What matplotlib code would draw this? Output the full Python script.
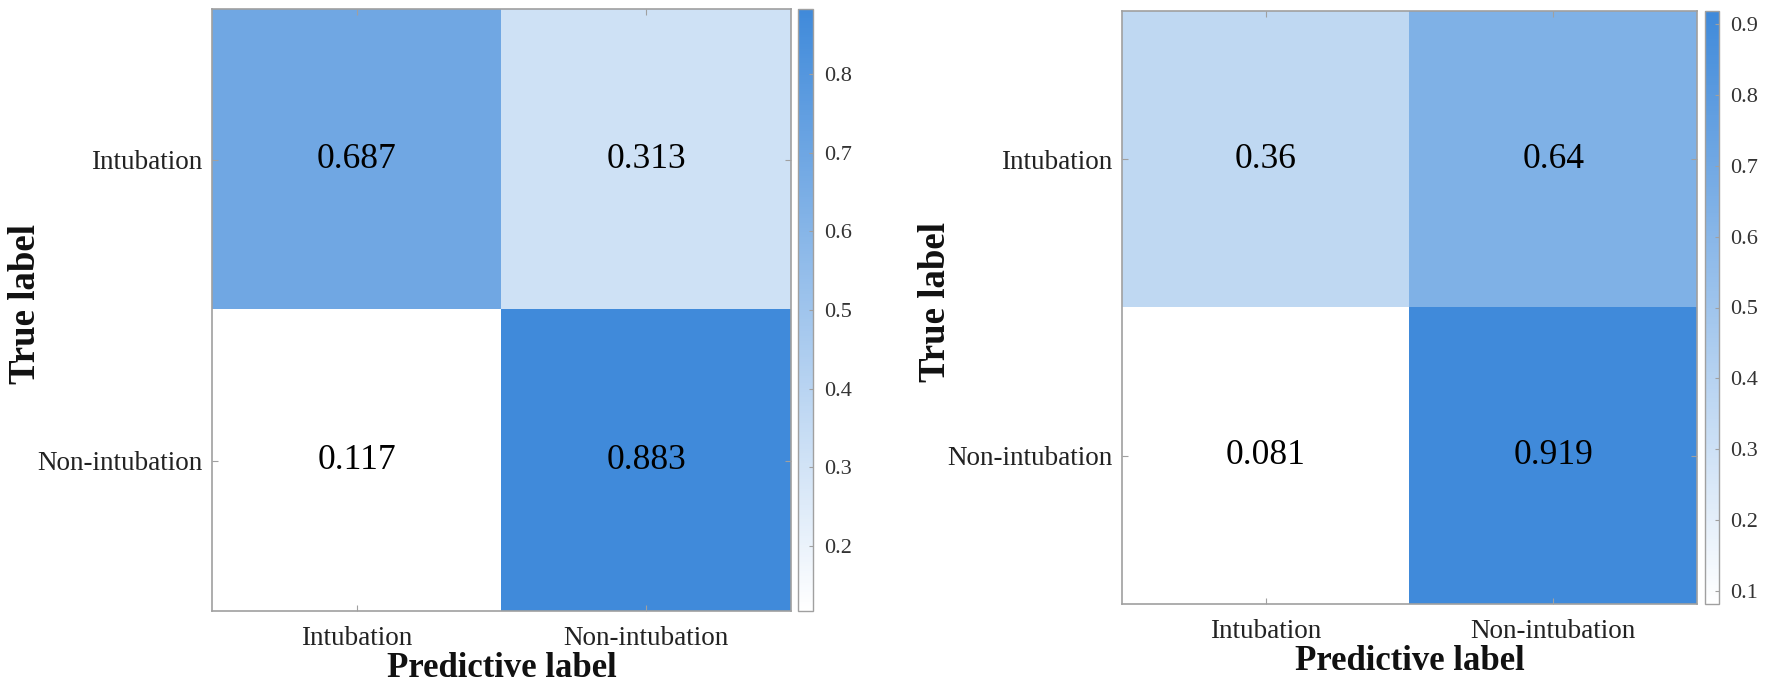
import matplotlib
matplotlib.use("Agg")
import matplotlib.pyplot as plt
import numpy as np
from matplotlib.colors import LinearSegmentedColormap
from matplotlib.ticker import MultipleLocator

plt.rcParams['font.family'] = ['Liberation Serif', 'DejaVu Serif']

# ---- data ----
categories = ["Intubation", "Non-intubation"]
cm_left = [[0.687, 0.313],
           [0.117, 0.883]]
cm_right = [[0.36, 0.64],
            [0.081, 0.919]]
x_title = "Predictive label"
y_title = "True label"

cmap = LinearSegmentedColormap.from_list("wb", ["#FFFFFF", "#408ADA"])
spine_col = "#A0A0A0"

W, H = 1772, 693
fig = plt.figure(figsize=(W / 100, H / 100), dpi=100)


def px_rect(x0, y0, x1, y1):
    return [x0 / W, 1 - y1 / H, (x1 - x0) / W, (y1 - y0) / H]


def draw(mat, ax_rect, cb_rect):
    data = np.array(mat)
    ax = fig.add_axes(px_rect(*ax_rect))
    cax = fig.add_axes(px_rect(*cb_rect))
    im = ax.imshow(data, cmap=cmap, vmin=data.min(), vmax=data.max(),
                   aspect='auto', interpolation='nearest')
    for i in range(data.shape[0]):
        for j in range(data.shape[1]):
            ax.text(j, i, f"{data[i, j]:g}", ha='center', va='center',
                    fontsize=25.5, color='black')
    ax.set_xticks(range(len(categories)))
    ax.set_yticks(range(len(categories)))
    ax.set_xticklabels(categories, fontsize=19.5, color='#222222')
    ax.set_yticklabels(categories, fontsize=19.5, color='#222222')
    ax.tick_params(direction='in', length=4, width=0.8, color=spine_col,
                   top=True, right=True)
    ax.tick_params(axis='y', pad=7)
    ax.tick_params(axis='x', pad=11)
    for s in ax.spines.values():
        s.set_color(spine_col)
        s.set_linewidth(1.2)

    x0, y0, x1, y1 = ax_rect
    # axis titles (bold), positioned by their baselines
    fig.text((x0 - 177) / W, 1 - ((y0 + y1) / 2 - 6) / H, y_title,
             rotation=90, rotation_mode='anchor', ha='center', va='baseline',
             fontsize=26.5, fontweight='bold', color='#111111')
    fig.text((x0 + x1) / 2 / W, 1 - (y1 + 66) / H, x_title,
             ha='center', va='baseline',
             fontsize=25, fontweight='bold', color='#111111')

    cb = fig.colorbar(im, cax=cax)
    cb.locator = MultipleLocator(0.1)
    cb.update_ticks()
    cb.outline.set_edgecolor(spine_col)
    cb.outline.set_linewidth(1.0)
    cax.tick_params(direction='in', length=3, width=0.8, color=spine_col,
                    labelsize=16, labelcolor='#333333', pad=8)
    return ax


draw(cm_left, (212, 9, 791, 611), (798, 9, 813, 611))
draw(cm_right, (1122, 11, 1697, 604), (1705, 11, 1719, 604))

fig.savefig("out.png", dpi=100, facecolor='white')
